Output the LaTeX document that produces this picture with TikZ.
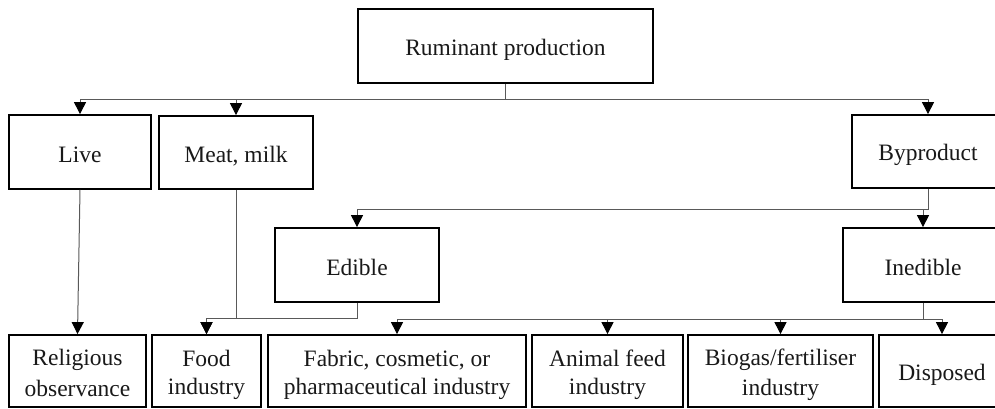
\documentclass[tikz,border=0pt]{standalone}
\usepackage{fontspec}
\setmainfont{Liberation Serif}
\usetikzlibrary{arrows.meta}
\newcommand\ls{\rule[-4pt]{0pt}{28pt}}
\tikzset{
  box/.style={draw=black, line width=1.8pt, inner sep=0pt, align=center,
    font=\fontsize{23.5}{28}\selectfont, text=black!90},
  arr/.style={draw=black!65, line width=1pt,
    -{Triangle[width=12pt,length=12pt,color=black]}}
}
\begin{document}
\begin{tikzpicture}[x=1pt,y=-1pt]
\useasboundingbox (0,0) rectangle (995,409);
\clip (0,0) rectangle (995,409);
\fill[white] (0,0) rectangle (995,409);
% nodes
\node[box, minimum width=295pt, minimum height=74pt] (top) at (505.5,46) {\ls Ruminant production};
\node[box, minimum width=142pt, minimum height=74pt] (live) at (80,152) {\ls Live};
\node[box, minimum width=154pt, minimum height=73pt] (meat) at (236,152.5) {\ls Meat, milk};
\node[box, minimum width=152pt, minimum height=73pt] (byprod) at (928,151.5) {\ls Byproduct};
\node[box, minimum width=164pt, minimum height=74pt] (edible) at (357,265) {\ls Edible};
\node[box, minimum width=160pt, minimum height=74pt] (inedible) at (923,265) {\ls Inedible};
\node[box, minimum width=137pt, minimum height=72pt] (rel) at (77.5,371) {\ls Religious\\\ls observance};
\node[box, minimum width=109pt, minimum height=72pt] (food) at (206.5,371) {\ls Food\\\ls industry};
\node[box, minimum width=258pt, minimum height=72pt] (fabric) at (397,371) {\ls Fabric, cosmetic, or\\\ls pharmaceutical industry};
\node[box, minimum width=151pt, minimum height=72pt] (animal) at (607.5,371) {\ls Animal feed\\\ls industry};
\node[box, minimum width=185pt, minimum height=72pt] (biogas) at (780.5,371) {\ls Biogas/fertiliser\\\ls industry};
\node[box, minimum width=126pt, minimum height=72pt] (disposed) at (942,371) {\ls Disposed};
% bus levels
\coordinate (bus1) at (0,100);
\coordinate (bus2) at (0,209);
\coordinate (bus3) at (0,318);
\coordinate (bus4) at (0,319);
% connectors
\draw[arr] (top.south) -- (top.south |- bus1) -| (live.north);
\draw[arr] (top.south) -- (top.south |- bus1) -| (meat.north);
\draw[arr] (top.south) -- (top.south |- bus1) -| (byprod.north);
\draw[arr] (byprod.south) -- (byprod.south |- bus2) -| (edible.north);
\draw[arr] (byprod.south) -- (byprod.south |- bus2) -| (inedible.north);
\draw[arr] (live.south) -- (rel.north);
\draw[arr] (meat.south) -- (meat.south |- bus3) -| (food.north);
\draw[arr] (edible.south) -- (edible.south |- bus3) -| (food.north);
\draw[arr] (inedible.south) -- (inedible.south |- bus4) -| (fabric.north);
\draw[arr] (inedible.south) -- (inedible.south |- bus4) -| (animal.north);
\draw[arr] (inedible.south) -- (inedible.south |- bus4) -| (biogas.north);
\draw[arr] (inedible.south) -- (inedible.south |- bus4) -| (disposed.north);
\end{tikzpicture}
\end{document}
